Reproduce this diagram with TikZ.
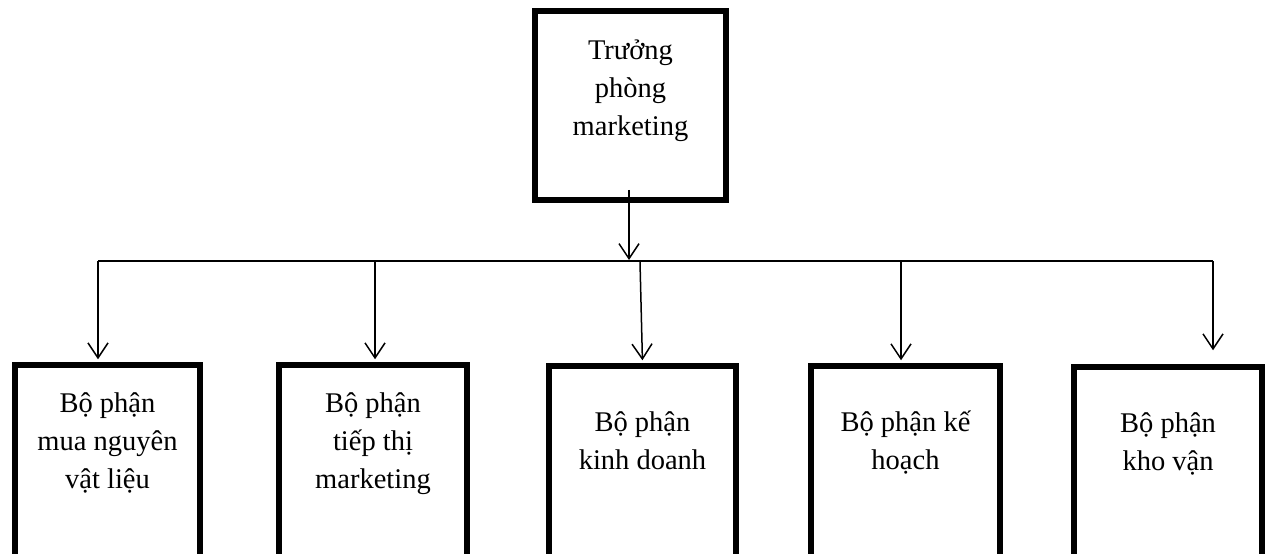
\documentclass[tikz,border=0pt]{standalone}
\usepackage{fontspec}
\setmainfont{Liberation Serif}
\usetikzlibrary{arrows.meta,calc}
\begin{document}
\begin{tikzpicture}[x=1pt,y=-1pt,
  box/.style={draw,line width=5.5pt,minimum width=188pt,minimum height=235pt,inner sep=0pt},
  lbl/.style={align=center,anchor=base,font=\fontsize{28.5pt}{38pt}\selectfont,inner sep=0pt},
  conn/.style={line width=1.5pt},
  arr/.style={conn,-{Straight Barb[length=15pt,width=20pt,line width=1.5pt]},shorten >=3pt}]
\useasboundingbox (0,0) rectangle (1269,554);
\clip (0,0) rectangle (1269,554);
% boxes
\node[box,minimum width=191pt,minimum height=189pt] (top) at (630.5,105.5) {};
\node[box,minimum width=185pt] (b1) at (107.5,482.5) {};
\node[box] (b2) at (373,482.5) {};
\node[box,minimum width=187pt] (b3) at (642.5,483.5) {};
\node[box,minimum width=189pt] (b4) at (905.5,483.5) {};
\node[box] (b5) at (1168,484.5) {};
% labels (base anchor = last line's baseline)
\node[lbl] (ttop) at ([yshift=-127pt]top.north) {Trưởng\\phòng\\marketing};
\node[lbl] (t1) at ([yshift=-126pt]b1.north) {Bộ phận\\mua nguyên\\vật liệu};
\node[lbl] (t2) at ([yshift=-126pt]b2.north) {Bộ phận\\tiếp thị\\marketing};
\node[lbl] (t3) at ([yshift=-106pt]b3.north) {Bộ phận\\kinh doanh};
\node[lbl] (t4) at ([yshift=-106pt]b4.north) {Bộ phận kế\\hoạch};
\node[lbl] (t5) at ([yshift=-106pt]b5.north) {Bộ phận\\kho vận};
% bus
\coordinate (p1) at (98,261);
\coordinate (p2) at (375,261);
\coordinate (p3) at (640,262);
\coordinate (p4) at (901,261);
\coordinate (p5) at (1213,261);
\coordinate (s0) at ([xshift=-1.5pt,yshift=13pt]top.south);
\draw[conn] (p1) -- (p5);
\draw[arr,shorten >=1pt] (s0) -- (s0 |- p1);
\draw[arr] (p1) -- (p1 |- b1.north);
\draw[arr] (p2) -- (p2 |- b2.north);
\draw[arr] (p3) -- (b3.north);
\draw[arr] (p4) -- (p4 |- b4.north);
\draw[arr,shorten >=0pt] (p5) -- ($(p5 |- b5.north)+(0,-14)$);
\end{tikzpicture}
\end{document}
